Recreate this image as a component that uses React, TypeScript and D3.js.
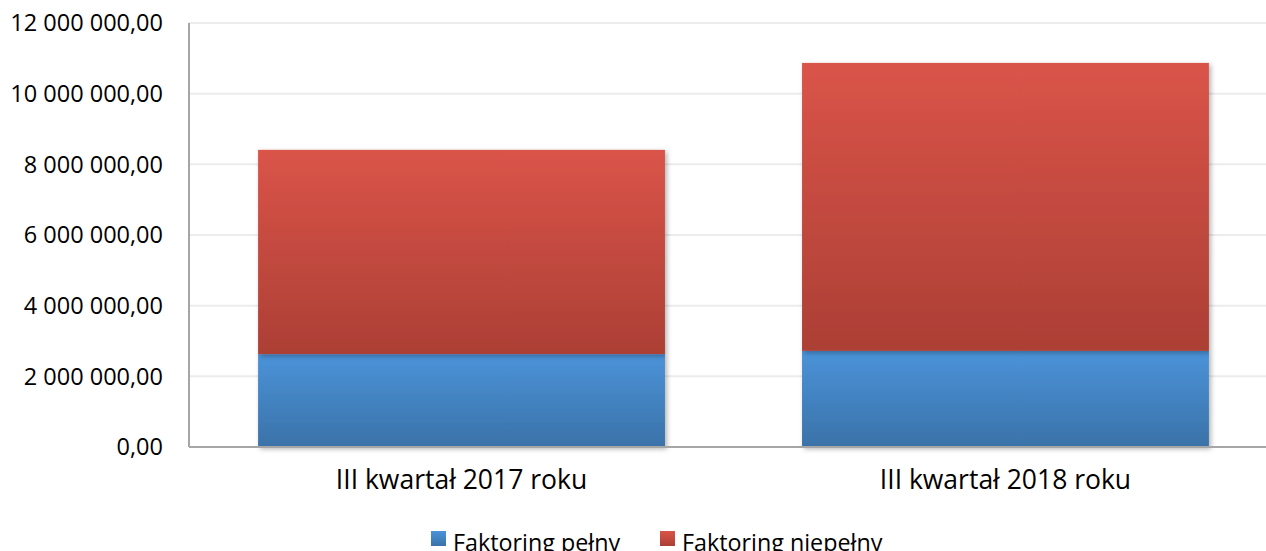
import React from "react";
import * as d3 from "d3";

const categories = ["III kwartał 2017 roku", "III kwartał 2018 roku"];
const seriesNames = ["Faktoring pełny", "Faktoring niepełny"];
const pelny = [2630000, 2720000];
const niepelny = [5780000, 8150000];
const yTicks = [0, 2000000, 4000000, 6000000, 8000000, 10000000, 12000000];

const width = 1266;
const height = 551;
const margin = { left: 189, top: 23, bottom: 104 };
const plotRight = 1278;
const font = "'Open Sans', sans-serif";

const gradStops = [
  { id: "gBlue", top: "#4b93d9", bottom: "#3a72a8" },
  { id: "gRed", top: "#da5449", bottom: "#ac3f35" },
];

const fmt = (v: number) =>
  d3.format(",.2f")(v).replace(/,/g, " ").replace(".", ",");

const App = () => {
  const x = d3
    .scaleBand()
    .domain(categories)
    .range([margin.left, plotRight])
    .paddingInner(0.252)
    .paddingOuter(0.127);

  const y = d3
    .scaleLinear()
    .domain([0, 12000000])
    .range([height - margin.bottom, margin.top]);

  const rows = categories.map((c, i) => ({ cat: c, pelny: pelny[i], niepelny: niepelny[i] }));
  const stacked = d3.stack<any>().keys(["pelny", "niepelny"])(rows);

  return (
    <svg width={width} height={height} style={{ position: "absolute", left: 0, top: 0, background: "#fff" }}>
      <defs>
        {gradStops.map((g) => (
          <linearGradient key={g.id} id={g.id} x1="0" y1="0" x2="0" y2="1">
            <stop offset="0%" stopColor={g.top} />
            <stop offset="100%" stopColor={g.bottom} />
          </linearGradient>
        ))}
        <filter id="shadow" x="-5%" y="-5%" width="115%" height="115%">
          <feDropShadow dx="2" dy="2" stdDeviation="2.5" floodColor="#000" floodOpacity="0.3" />
        </filter>
      </defs>

      {yTicks.map((t) => (
        <g key={t}>
          {t > 0 && (
            <line x1={margin.left} x2={width} y1={y(t)} y2={y(t)} stroke="#ececec" strokeWidth={2} />
          )}
          <text x={163} y={y(t)} dy="0.35em" textAnchor="end" fontFamily={font} fontSize={23.5} fill="#000">
            {fmt(t)}
          </text>
        </g>
      ))}

      {stacked.map((s, si) => (
        <g key={si} fill={`url(#${gradStops[si].id})`}>
          {s.map((d, i) => (
            <rect
              key={i}
              x={x(categories[i])}
              width={x.bandwidth()}
              y={y(d[1])}
              height={y(d[0]) - y(d[1])}
              filter="url(#shadow)"
            />
          ))}
        </g>
      ))}

      <line x1={margin.left} x2={width} y1={y(0)} y2={y(0)} stroke="#a6a6a6" strokeWidth={2} />
      <line x1={margin.left} x2={margin.left} y1={y(12000000)} y2={y(0)} stroke="#a6a6a6" strokeWidth={2} />

      {categories.map((c) => (
        <text
          key={c}
          x={(x(c) as number) + x.bandwidth() / 2}
          y={489}
          textAnchor="middle"
          fontFamily={font}
          fontSize={26.5}
          fill="#000"
        >
          {c}
        </text>
      ))}

      {seriesNames.map((n, i) => {
        const lx = [431, 660][i];
        return (
          <g key={n}>
            <rect x={lx} y={531} width={15} height={15} fill={`url(#${gradStops[i].id})`} />
            <text x={lx + 22} y={551} fontFamily={font} fontSize={23.3} fill="#000">
              {n}
            </text>
          </g>
        );
      })}
    </svg>
  );
};

export default App;
